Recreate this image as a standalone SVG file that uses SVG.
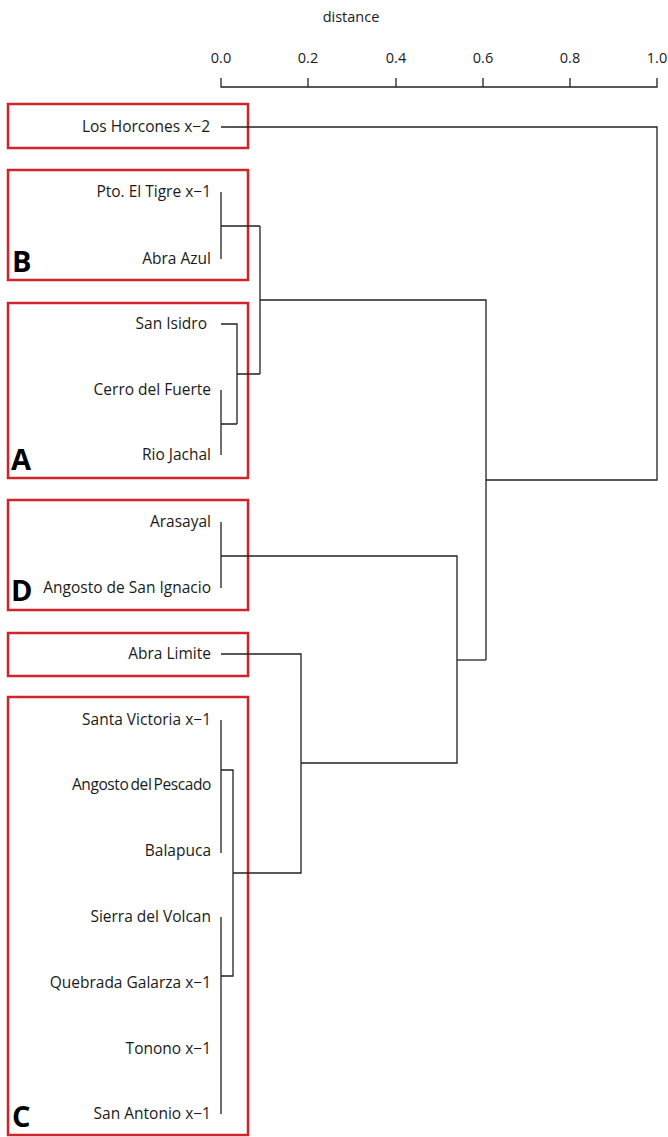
<svg xmlns="http://www.w3.org/2000/svg" width="668" height="1137" viewBox="0 0 668 1137">
<style>
.lbl{font-family:"Open Sans","Liberation Sans",sans-serif;font-size:15.5px;fill:#1a1a1a;text-anchor:end}
.ax{font-family:"Open Sans","Liberation Sans",sans-serif;font-size:14.5px;fill:#1a1a1a;text-anchor:middle}
.big{font-family:"Open Sans","Liberation Sans",sans-serif;font-size:29px;font-weight:bold;fill:#000}
.box{fill:none;stroke:#d2232a;stroke-width:2.5}
.ln{fill:none;stroke:#222;stroke-width:1.3}
</style>
<rect width="668" height="1137" fill="#fff"/>
<g id="axis">
<text class="ax" x="351" y="22">distance</text>
<text class="ax" x="221" y="63">0.0</text>
<text class="ax" x="308" y="63">0.2</text>
<text class="ax" x="396" y="63">0.4</text>
<text class="ax" x="483" y="63">0.6</text>
<text class="ax" x="570" y="63">0.8</text>
<text class="ax" x="657" y="63">1.0</text>
<path class="ln" d="M221,78V87H657V78M308,78V87M396,78V87M483,78V87M570,78V87"/>
</g>
<g id="group-top">
<rect class="box" x="8" y="104" width="240" height="44"/>
<text class="lbl" x="210" y="132">Los Horcones x−2</text>
</g>
<g id="group-B">
<rect class="box" x="8" y="170" width="240" height="110"/>
<text class="big" x="12" y="272">B</text>
<text class="lbl" x="211" y="197">Pto. El Tigre x−1</text>
<text class="lbl" x="211" y="264">Abra Azul</text>
</g>
<g id="group-A">
<rect class="box" x="8" y="303" width="240" height="175"/>
<text class="big" x="11" y="470">A</text>
<text class="lbl" x="207" y="329">San Isidro</text>
<text class="lbl" x="211" y="395">Cerro del Fuerte</text>
<text class="lbl" x="211" y="460">Rio Jachal</text>
</g>
<g id="group-D">
<rect class="box" x="8" y="500" width="240" height="110"/>
<text class="big" x="11" y="601">D</text>
<text class="lbl" x="211" y="593">Angosto de San Ignacio</text>
<text class="lbl" x="211" y="527">Arasayal</text>
</g>
<g id="group-limite">
<rect class="box" x="8" y="633" width="240" height="43"/>
<text class="lbl" x="211" y="659">Abra Limite</text>
</g>
<g id="group-C">
<rect class="box" x="8" y="697" width="240" height="438"/>
<text class="big" x="12" y="1127">C</text>
<text class="lbl" x="211" y="725">Santa Victoria x−1</text>
<text class="lbl" x="211" y="790" word-spacing="-1.5" letter-spacing="-0.4">Angosto del Pescado</text>
<text class="lbl" x="211" y="856">Balapuca</text>
<text class="lbl" x="211" y="922">Sierra del Volcan</text>
<text class="lbl" x="211" y="988">Quebrada Galarza x−1</text>
<text class="lbl" x="211" y="1054">Tonono x−1</text>
<text class="lbl" x="211" y="1119">San Antonio x−1</text>
</g>
<g id="connectors">
<path class="ln" d="M221,127H657V480H486"/>
<path class="ln" d="M221,192V259M221,226H260M221,324H237V424M221,390V455M221,424H237M237,374H260M260,226V374M260,300H486V660"/>
<path class="ln" d="M221,522V588M221,556H457V763H301"/>
<path class="ln" d="M221,654H301V873H233"/>
<path class="ln" d="M221,720V853M221,770H233V976H221M221,917V1114"/>
<path class="ln" d="M457,660H486"/>
</g>
</svg>
